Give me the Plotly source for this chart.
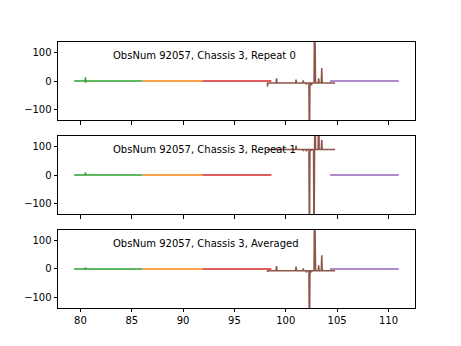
import plotly.graph_objects as go
from plotly.subplots import make_subplots

# ---- data ----
titles = ["ObsNum 92057, Chassis 3, Repeat 0",
          "ObsNum 92057, Chassis 3, Repeat 1",
          "ObsNum 92057, Chassis 3, Averaged"]

green_x = [79.4, 80.45, 80.5, 80.5, 80.55, 86.05]
green_y = [
    [0, 0, 13, -6, 0, 0],
    [0, 0, 9, 0, 0, 0],
    [0, 0, 5, -2, 0, 0],
]
orange_x = [86.05, 91.9]
orange_y = [0, 0]
red_x = [91.9, 98.6]
red_y = [0, 0]
purple_x = [104.3, 111.0]
purple_y = [0, 0]

brown_x = [98.2, 98.22, 98.25, 99.05, 99.1, 99.15, 100.0, 100.95, 101.0, 101.05,
           101.65, 101.7, 101.75, 101.95, 102.0, 102.05, 102.25, 102.3, 102.35,
           102.45, 102.5, 102.55, 102.7, 102.75, 102.8, 102.85, 102.9, 103.15,
           103.2, 103.25, 103.45, 103.5, 103.55, 104.8]
brown_y = [
    [-7, -19, -7, -7, 10, -7, -6, -7, 5, -7,
     -7, 3, -7, -7, -12, -7, -7, -300, -7,
     -7, -15, -7, -7, -7, 300, -7, -7, -7,
     10, -7, -7, 46, -7, -7],
    [90, 88, 90, 90, 95, 90, 89, 90, 104, 90,
     90, 85, 90, 90, 84, 90, 90, -300, 90,
     90, 86, 90, 90, -300, 90, 300, 90, 90,
     300, 90, 90, 124, 90, 90],
    [-7, -10, -7, -7, 10, -7, -6, -7, 8, -7,
     -7, 2, -7, -7, -10, -7, -7, -300, -7,
     -7, -12, -7, -7, -7, 300, -7, -7, -7,
     13, -7, -7, 48, -7, -7],
]

xticks = [80, 85, 90, 95, 100, 105, 110]
yticks = [-100, 0, 100]
xrange_ = [77.82, 112.58]
yrange_ = [-138, 138]

C_GREEN = "#2ca02c"
C_ORANGE = "#ff7f0e"
C_RED = "#d62728"
C_BROWN = "#8c564b"
C_PURPLE = "#9467bd"

fig = make_subplots(rows=3, cols=1, shared_xaxes=True, vertical_spacing=0.05882)

for i in range(3):
    r = i + 1
    fig.add_trace(go.Scatter(x=green_x, y=green_y[i], mode="lines",
                             line=dict(color=C_GREEN, width=1.5)), row=r, col=1)
    fig.add_trace(go.Scatter(x=orange_x, y=orange_y, mode="lines",
                             line=dict(color=C_ORANGE, width=1.5)), row=r, col=1)
    fig.add_trace(go.Scatter(x=red_x, y=red_y, mode="lines",
                             line=dict(color=C_RED, width=1.5)), row=r, col=1)
    fig.add_trace(go.Scatter(x=brown_x, y=brown_y[i], mode="lines",
                             line=dict(color=C_BROWN, width=1.5)), row=r, col=1)
    fig.add_trace(go.Scatter(x=purple_x, y=purple_y, mode="lines",
                             line=dict(color=C_PURPLE, width=1.5)), row=r, col=1)
    xref = "x" if i == 0 else f"x{r}"
    yref = "y" if i == 0 else f"y{r}"
    fig.add_annotation(x=83.0, y=91, xref=xref, yref=yref, text=titles[i],
                       showarrow=False, xanchor="left", yanchor="middle",
                       font=dict(family="DejaVu Sans", size=10, color="black"))

fig.update_xaxes(range=xrange_, tickvals=xticks, showline=True, mirror=True,
                 linecolor="black", linewidth=0.8, ticks="outside", ticklen=3.5,
                 tickwidth=0.8, tickcolor="black", showgrid=False, zeroline=False,
                 tickfont=dict(family="DejaVu Sans", size=10, color="black"))
fig.update_yaxes(range=yrange_, tickvals=yticks, showline=True, mirror=True,
                 linecolor="black", linewidth=0.8, ticks="outside", ticklen=3.5,
                 tickwidth=0.8, tickcolor="black", showgrid=False, zeroline=False,
                 tickfont=dict(family="DejaVu Sans", size=10, color="black"))

fig.update_layout(width=461, height=346, showlegend=False,
                  margin=dict(l=57.6, r=46.1, t=41.5, b=38),
                  plot_bgcolor="white", paper_bgcolor="white")

fig.write_html("out.html")
